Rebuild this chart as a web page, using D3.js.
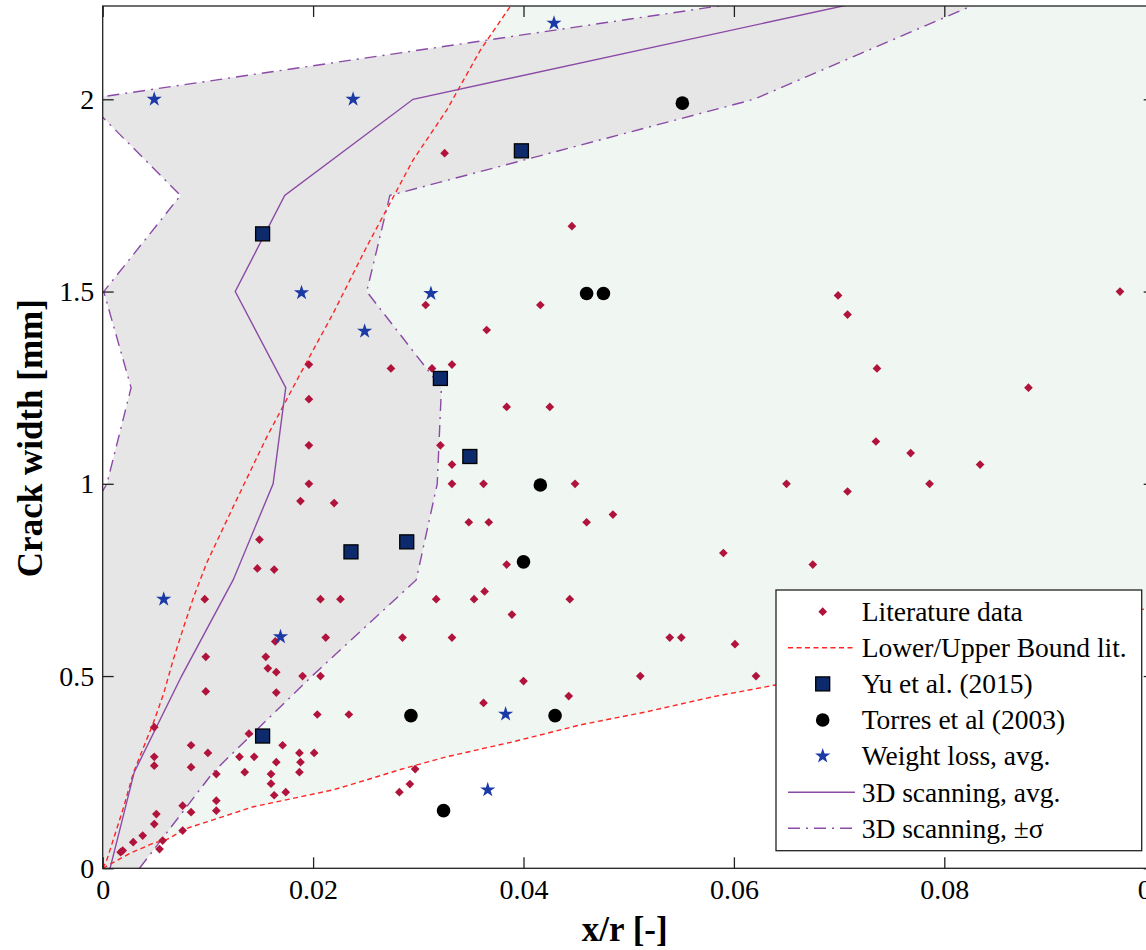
<!DOCTYPE html>
<html>
<head>
<meta charset="utf-8">
<script src="https://cdn.jsdelivr.net/npm/d3@7/dist/d3.min.js"></script>
<style>
	body { margin: 0; background: #fff; }
	svg { display: block; }
	text { font-family: "Liberation Serif", "Times New Roman", serif; fill: #000; }
</style>
</head>
<body>
<div id="chart"></div>
<script>
(function () {

	"use strict";

	//literature data [x/r, crack width]
	var litPoints = [
		[0.0325,1.86],[0.0446,1.67],[0.0699,1.49],[0.0967,1.5],[0.0708,1.44],[0.0736,1.3],[0.088,1.25],
		[0.0735,1.11],[0.0768,1.08],[0.0834,1.05],[0.065,1.0],[0.0708,0.98],[0.0786,1.0],[0.0675,0.79],
		[0.0196,1.31],[0.0274,1.3],[0.0196,1.22],[0.0196,1.1],[0.0196,1.0],[0.0188,0.955],[0.022,0.95],
		[0.0149,0.855],[0.0147,0.78],[0.0163,0.777],
		[0.0307,1.465],[0.0416,1.465],[0.0365,1.4],[0.0313,1.3],[0.0332,1.31],[0.0384,1.2],[0.0425,1.2],
		[0.0321,1.1],[0.0332,1.05],[0.0332,1.0],[0.0362,1.0],[0.0449,1.0],[0.0348,0.9],[0.0367,0.9],
		[0.046,0.9],[0.0485,0.92],[0.059,0.82],[0.0384,0.79],
		[0.0097,0.7],[0.0207,0.7],[0.0226,0.7],[0.0212,0.6],[0.0164,0.59],[0.0098,0.55],[0.0155,0.55],
		[0.0157,0.52],[0.0165,0.51],[0.019,0.5],[0.0207,0.5],[0.0098,0.46],[0.0165,0.457],[0.0204,0.4],
		[0.0234,0.4],[0.0049,0.367],[0.0139,0.35],[0.0084,0.32],[0.0171,0.32],[0.01,0.3],[0.0187,0.3],
		[0.0201,0.3],[0.0049,0.29],[0.013,0.29],[0.0144,0.29],[0.0049,0.267],[0.0084,0.263],[0.0165,0.276],
		[0.0188,0.276],[0.0108,0.245],[0.0135,0.25],[0.016,0.245],[0.0187,0.25],[0.016,0.22],[0.0174,0.198],
		[0.0163,0.19],[0.0282,0.198],[0.0108,0.176],[0.0076,0.163],[0.0051,0.141],[0.0084,0.146],[0.0108,0.15],
		[0.0049,0.115],[0.0038,0.085],[0.0076,0.098],[0.0029,0.068],[0.0057,0.072],[0.0019,0.046],[0.0017,0.042],
		[0.0054,0.05],
		[0.0317,0.7],[0.0353,0.7],[0.0363,0.72],[0.0444,0.7],[0.0389,0.66],[0.0285,0.6],[0.0332,0.6],
		[0.0539,0.6],[0.055,0.6],[0.0601,0.583],[0.04,0.487],[0.0511,0.5],[0.0621,0.5],[0.0362,0.43],
		[0.0443,0.448],[0.0297,0.258],[0.0292,0.219]
	];

	//lower / upper bound of the literature data
	var lowerBound = [
		[0,0],[0.0026,0.039],[0.0048,0.065],[0.0061,0.075],[0.008,0.104],[0.0105,0.126],[0.0143,0.16],
		[0.0188,0.186],[0.0219,0.204],[0.0251,0.23],[0.0283,0.257],[0.0327,0.29],[0.039,0.329],
		[0.0454,0.373],[0.0517,0.407],[0.058,0.446],[0.0644,0.479],[0.1,0.68]
	];
	var upperBound = [
		[0,0],[0.0004,0.022],[0.001,0.074],[0.002,0.16],[0.0029,0.247],[0.0039,0.316],[0.0048,0.377],
		[0.0058,0.455],[0.0067,0.542],[0.0077,0.628],[0.0087,0.71],[0.0099,0.795],[0.0124,0.94],
		[0.0156,1.122],[0.0188,1.287],[0.0219,1.443],[0.0251,1.617],[0.0295,1.842],[0.0327,1.972],
		[0.0359,2.128],[0.0392,2.26]
	];

	var yuPoints = [[0.0152,1.65],[0.0398,1.866],[0.0321,1.274],[0.0349,1.071],[0.0289,0.849],[0.0236,0.823],[0.0152,0.344]];
	var torresPoints = [[0.0551,1.99],[0.046,1.495],[0.0476,1.495],[0.0416,0.997],[0.04,0.797],[0.0293,0.397],[0.043,0.397],[0.0324,0.15]];
	var weightPoints = [[0.0049,2.0],[0.0238,2.0],[0.0429,2.198],[0.0189,1.497],[0.0312,1.495],[0.0249,1.397],[0.0058,0.7],[0.0169,0.602],[0.0383,0.401],[0.0366,0.204]];

	//3D scanning, crack width levels
	var scanY = [0, 0.25, 0.5, 0.75, 1.0, 1.25, 1.5, 1.75, 2.0, 2.25];
	var scanAvg = [0.0007, 0.003, 0.0075, 0.0124, 0.0162, 0.0174, 0.0126, 0.0173, 0.0295, 0.0716];
	var scanUp = [0.0035, 0.0105, 0.0199, 0.0298, 0.0318, 0.0322, 0.0251, 0.0273, 0.0619, 0.0832];
	var scanLow = [-0.0021, -0.0045, -0.0049, -0.005, 0.0004, 0.0027, 0.0001, 0.0074, -0.0017, 0.0604];

	var xTicks = [0, 0.02, 0.04, 0.06, 0.08, 0.1];
	var xTickLabels = ["0", "0.02", "0.04", "0.06", "0.08", "0.1"];
	var yTicks = [0, 0.5, 1, 1.5, 2];
	var yTickLabels = ["0", "0.5", "1", "1.5", "2"];

	var legendLabels = ["Literature data", "Lower/Upper Bound lit.", "Yu et al. (2015)", "Torres et al (2003)",
		"Weight loss, avg.", "3D scanning, avg.", "3D scanning, \u00b1\u03c3"];

	var W = 1146, H = 950;
	var x0 = 102.7, x1 = 1154.7, yTop = 6, yBot = 868.3;

	var xScale = d3.scaleLinear().domain([0, 0.1]).range([x0, x1]);
	var yScale = d3.scaleLinear().domain([0, 2]).range([yBot, 99.3]);
	var yMax = yScale.invert(yTop);

	var purple = "#8b4aa6", red = "#ff2424", litColor = "#b0143c";
	var dashDot = "12,6,2,6", dotted = "5,3.5";

	var svg = d3.select("#chart").append("svg").attr("width", W).attr("height", H);

	svg.append("defs").append("clipPath").attr("id", "plotclip")
		.append("rect").attr("x", x0).attr("y", yTop).attr("width", x1 - x0).attr("height", yBot - yTop);

	var plot = svg.append("g").attr("clip-path", "url(#plotclip)");

	var line = d3.line().x(function (d) { return xScale(d[0]); }).y(function (d) { return yScale(d[1]); });

	//region between literature bounds
	var litRegion = upperBound.concat([[0.1, yMax + 0.05]]).concat(lowerBound.slice().reverse());
	plot.append("path").attr("d", line(litRegion) + "Z").attr("fill", "#f0f6f2");

	//3D scanning +-sigma band
	var band = d3.area()
		.y(function (d, i) { return yScale(scanY[i]); })
		.x0(function (d, i) { return xScale(scanLow[i]); })
		.x1(function (d, i) { return xScale(scanUp[i]); });
	plot.append("path").attr("d", band(scanY)).attr("fill", "#e6e6e6");

	[lowerBound, upperBound].forEach(function (b) {
		plot.append("path").attr("d", line(b)).attr("fill", "none")
			.attr("stroke", red).attr("stroke-width", 1.4).attr("stroke-dasharray", dotted);
	});

	var pairs = function (xs) { return xs.map(function (v, i) { return [v, scanY[i]]; }); };

	plot.append("path").attr("d", line(pairs(scanAvg))).attr("fill", "none")
		.attr("stroke", purple).attr("stroke-width", 1.4);
	[scanLow, scanUp].forEach(function (s) {
		plot.append("path").attr("d", line(pairs(s))).attr("fill", "none")
			.attr("stroke", purple).attr("stroke-width", 1.4).attr("stroke-dasharray", dashDot);
	});

	//markers
	var diamond = {
		draw : function (ctx, size) {
			var r = Math.sqrt(size / 2);
			ctx.moveTo(0, -r); ctx.lineTo(r, 0); ctx.lineTo(0, r); ctx.lineTo(-r, 0); ctx.closePath();
		}
	};
	var marks = {
		lit : function (g) { g.append("path").attr("d", d3.symbol(diamond, 38)()).attr("fill", litColor); },
		yu : function (g) { g.append("rect").attr("x", -7).attr("y", -7).attr("width", 14).attr("height", 14)
			.attr("fill", "#0c2a6c").attr("stroke", "#000").attr("stroke-width", 1.3); },
		torres : function (g) { g.append("circle").attr("r", 6.8).attr("fill", "#000"); },
		weight : function (g) { g.append("path").attr("d", d3.symbol(d3.symbolStar, 72)()).attr("fill", "#1b3aa6"); }
	};

	var drawPoints = function (pts, kind) {
		plot.append("g").selectAll("g").data(pts).join("g")
			.attr("transform", function (d) { return "translate(" + xScale(d[0]) + "," + yScale(d[1]) + ")"; })
			.each(function () { marks[kind](d3.select(this)); });
	};
	drawPoints(litPoints, "lit");
	drawPoints(yuPoints, "yu");
	drawPoints(torresPoints, "torres");
	drawPoints(weightPoints, "weight");

	//axes, ticks pointing inward on all four sides
	var axB = d3.axisBottom(xScale).tickValues(xTicks).tickSizeInner(-11).tickSizeOuter(0).tickPadding(11)
		.tickFormat(function (d, i) { return xTickLabels[i]; });
	var axT = d3.axisTop(xScale).tickValues(xTicks).tickSizeInner(-11).tickSizeOuter(0).tickFormat("");
	var axL = d3.axisLeft(yScale).tickValues(yTicks).tickSizeInner(-11).tickSizeOuter(0).tickPadding(8.5)
		.tickFormat(function (d, i) { return yTickLabels[i]; });
	var axR = d3.axisRight(yScale).tickValues(yTicks).tickSizeInner(-11).tickSizeOuter(0).tickFormat("");

	var styleAxis = function (g) {
		g.attr("font-family", null);
		g.select(".domain").remove();
		g.selectAll(".tick line").attr("stroke", "#222").attr("stroke-width", 1.3);
		g.selectAll(".tick text").attr("font-size", 28).attr("fill", "#000");
	};
	svg.append("g").attr("transform", "translate(0," + yBot + ")").call(axB).call(styleAxis);
	svg.append("g").attr("transform", "translate(0," + yTop + ")").call(axT).call(styleAxis);
	svg.append("g").attr("transform", "translate(" + x0 + ",0)").call(axL).call(styleAxis);
	svg.append("g").attr("transform", "translate(" + x1 + ",0)").call(axR).call(styleAxis);

	svg.append("rect").attr("x", x0).attr("y", yTop).attr("width", x1 - x0).attr("height", yBot - yTop)
		.attr("fill", "none").attr("stroke", "#222").attr("stroke-width", 1.3);

	svg.append("text").attr("x", (x0 + x1) / 2 - 4).attr("y", 941).attr("text-anchor", "middle")
		.attr("font-size", 35).attr("font-weight", "bold").text("x/r [-]");
	svg.append("text").attr("transform", "translate(42," + ((yTop + yBot) / 2 + 1) + ") rotate(-90)")
		.attr("text-anchor", "middle").attr("font-size", 35).attr("font-weight", "bold").text("Crack width [mm]");

	//legend
	var lg = svg.append("g");
	lg.append("rect").attr("x", 776).attr("y", 590).attr("width", 365.7).attr("height", 260.7)
		.attr("fill", "#fff").attr("stroke", "#222").attr("stroke-width", 1.3);
	legendLabels.forEach(function (label, i) {
		var cy = 611.7 + i * 36.1;
		var row = lg.append("g");
		if (i === 1 || i === 5 || i === 6) {
			row.append("line").attr("x1", 788).attr("x2", 855).attr("y1", cy).attr("y2", cy)
				.attr("stroke", i === 1 ? red : purple).attr("stroke-width", 1.4)
				.attr("stroke-dasharray", i === 1 ? dotted : (i === 6 ? dashDot : null));
		} else {
			var m = row.append("g").attr("transform", "translate(822.7," + cy + ")");
			marks[["lit", null, "yu", "torres", "weight"][i]](m);
		}
		row.append("text").attr("x", 861.7).attr("y", cy).attr("dy", "0.34em")
			.attr("font-size", 27.5).text(label);
	});

}).call(this);
</script>
</body>
</html>
